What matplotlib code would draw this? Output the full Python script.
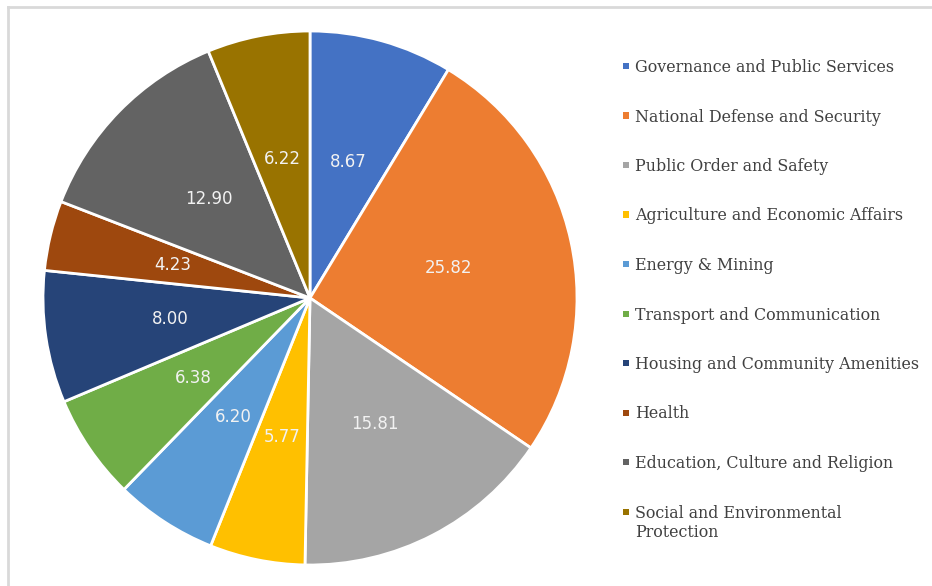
import matplotlib

matplotlib.use("Agg")
import matplotlib.pyplot as plt
from matplotlib.lines import Line2D
from matplotlib.patches import Rectangle

# Expenditure shares by function (percent of total)
categories = [
    "Governance and Public Services",
    "National Defense and Security",
    "Public Order and Safety",
    "Agriculture and Economic Affairs",
    "Energy & Mining",
    "Transport and Communication",
    "Housing and Community Amenities",
    "Health",
    "Education, Culture and Religion",
    "Social and Environmental\nProtection",
]
shares = [8.67, 25.82, 15.81, 5.77, 6.20, 6.38, 8.00, 4.23, 12.90, 6.22]
colors = [
    "#4472C4", "#ED7D31", "#A5A5A5", "#FFC000", "#5B9BD5",
    "#70AD47", "#264478", "#9E480E", "#636363", "#997300",
]

W, H = 932, 586
fig = plt.figure(figsize=(W / 100, H / 100), dpi=100)

# pie centred at (310, 298) px with a 267 px radius
cx, cy, r = 310, 298, 267
ax = fig.add_axes([(cx - r) / W, (H - cy - r) / H, 2 * r / W, 2 * r / H])
wedges, texts = ax.pie(
    shares,
    colors=colors,
    startangle=90,
    counterclock=False,
    labels=[f"{v:.2f}" for v in shares],
    labeldistance=0.53,
    wedgeprops=dict(edgecolor="white", linewidth=2),
    textprops=dict(color="#f2f2f2", fontsize=12, ha="center", va="center"),
)
ax.set_xlim(-1, 1)
ax.set_ylim(-1, 1)
ax.set_aspect("equal")
ax.axis("off")

# chart frame (top and left edges)
frame = dict(color="#d9d9d9", linewidth=2, transform=fig.transFigure)
fig.add_artist(Line2D([8 / W, 1], [1 - 7 / H, 1 - 7 / H], **frame))
fig.add_artist(Line2D([8 / W, 8 / W], [0, 1 - 7 / H], **frame))

# legend, drawn entry by entry so the marker sits on the first text line
y0, dy = 66, 49.5
for i, (name, col) in enumerate(zip(categories, colors)):
    y = y0 + i * dy
    fig.add_artist(Rectangle((623 / W, 1 - (y + 3) / H), 6 / W, 6 / H,
                             facecolor=col, edgecolor="none",
                             transform=fig.transFigure))
    fig.text(635 / W, 1 - (y - 7) / H, name, family="DejaVu Serif",
             fontsize=11.4, color="#404040", va="top", ha="left",
             linespacing=1.22)

fig.savefig("out.png", dpi=100)
